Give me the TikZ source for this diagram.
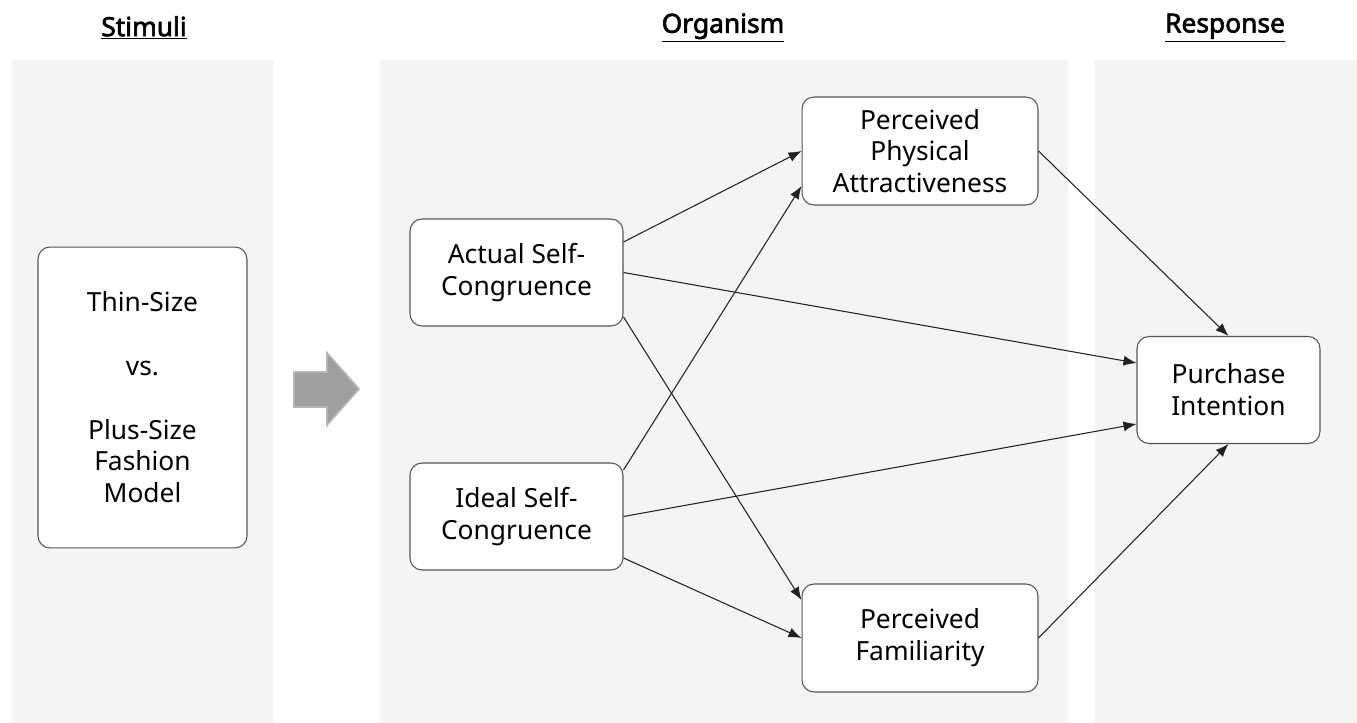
\documentclass[tikz,border=0pt]{standalone}
\usepackage{fontspec}
\setmainfont{Noto Sans}
\newfontfamily\headfont[FakeBold=2.5]{Noto Sans}
\usepackage{xcolor}
\usepackage{tikz}
\usetikzlibrary{arrows.meta}
\usetikzlibrary{positioning}
\definecolor{panelgray}{HTML}{F4F4F4}
\definecolor{boxline}{HTML}{555555}
\definecolor{linkcol}{HTML}{222222}
\tikzset{
	panel/.style={fill=panelgray, draw=none},
	headnode/.style={font=\headfont\fontsize{15}{17}\selectfont, inner sep=0pt},
	boxnode/.style={rectangle, rounded corners=0.24cm, draw=boxline, fill=white, line width=0.6pt, align=center, font=\fontsize{15}{18.1}\selectfont, inner sep=2pt},
	link/.style={draw=linkcol, line width=0.6pt, -{Latex[length=0.26cm,width=0.2cm]}}
}

\begin{document}
\begin{tikzpicture}[x=0.02cm, y=-0.02cm]
		\useasboundingbox (0,0) rectangle (1357,723);
		% background panels
		\fill[panel] (12,60) rectangle (273,723);
		\fill[panel] (380,60) rectangle (1068,723);
		\fill[panel] (1095,60) rectangle (1357,723);

		\node[headnode] at (144,28) (hstim) {\underline{Stimuli}};
		\node[headnode] at (723,28) (horg)  {\underline{Organism}};
		\node[headnode] at (1225,28) (hresp) {\underline{Response}};

		\node[boxnode, minimum width=4.18cm, minimum height=6.02cm] at (142.5,397.5) (stim)
			{Thin-Size\\[18.1pt]vs.\\[18.1pt]Plus-Size\\Fashion\\Model};

		% big arrow
		\draw[fill=gray!75, draw=gray!105!black!60, line width=1pt]
			(294,372) -- (327,372) -- (327,353) -- (359,389) -- (327,425) -- (327,407) -- (294,407) -- cycle;

		\node[boxnode, minimum width=4.26cm, minimum height=2.14cm] at (516.5,272.5) (act)   {Actual Self-\\Congruence};
		\node[boxnode, minimum width=4.26cm, minimum height=2.14cm] at (516.5,516.5) (ideal) {Ideal Self-\\Congruence};
		\node[boxnode, minimum width=4.72cm, minimum height=2.16cm] at (920,151) (ppa)  {Perceived\\Physical\\Attractiveness};
		\node[boxnode, minimum width=4.72cm, minimum height=2.16cm] at (920,638) (pf)   {Perceived\\Familiarity};
		\node[boxnode, minimum width=3.66cm, minimum height=2.14cm] at (1228.5,390) (pur) {Purchase\\Intention};

		\draw[link] ([yshift=0.61cm]act.east) -- (ppa.west);
		\draw[link] (act.east) -- ([yshift=0.54cm]pur.west);
		\draw[link] ([yshift=-0.89cm]act.east) -- ([yshift=0.76cm]pf.west);

		\draw[link] ([yshift=0.93cm]ideal.east) -- ([yshift=-0.7cm]ppa.west);
		\draw[link] (ideal.east) -- ([yshift=-0.68cm]pur.west);
		\draw[link] ([yshift=-0.83cm]ideal.east) -- (pf.west);

		\draw[link] (ppa.east) -- (pur.north);
		\draw[link] (pf.east) -- (pur.south);

	\end{tikzpicture}
\end{document}
